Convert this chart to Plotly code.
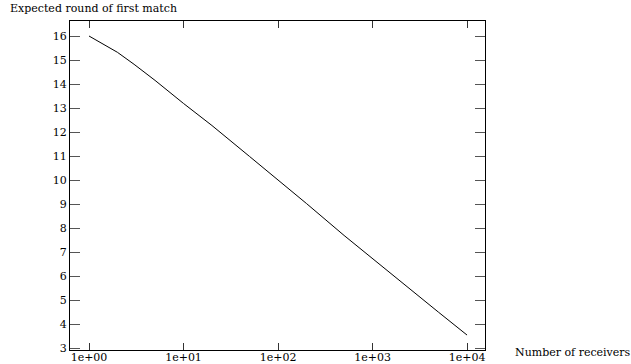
import plotly.graph_objects as go

# Expected round of first match vs. number of receivers
receivers = [1, 2, 3, 5, 10, 20, 50, 100, 200, 500, 1000, 2000, 5000, 10000]
expected_round = [16.00, 15.32, 14.82, 14.15, 13.19, 12.27, 10.98, 10.01,
                  9.02, 7.69, 6.72, 5.76, 4.49, 3.54]

x_tickvals = [1, 10, 100, 1000, 10000]
x_ticktext = ["1e+00", "1e+01", "1e+02", "1e+03", "1e+04"]
y_tickvals = list(range(3, 17))

W, H = 631, 364
L, R, T, B = 70, 146, 21, 14
plot_w = W - L - R
plot_h = H - T - B

serif = "DejaVu Serif"
fs = 11

fig = go.Figure()
fig.add_trace(go.Scatter(
    x=receivers, y=expected_round, mode="lines",
    line=dict(color="black", width=1), showlegend=False,
))

fig.update_layout(
    width=W, height=H,
    margin=dict(l=L, r=R, t=T, b=B),
    paper_bgcolor="white", plot_bgcolor="white",
    font=dict(family=serif, size=fs, color="black"),
    xaxis=dict(
        type="log", range=[-0.201, 4.19], automargin=False,
        tickvals=x_tickvals, ticktext=x_ticktext,
        ticks="inside", ticklen=7, tickwidth=1, tickcolor="#333",
        ticklabelstandoff=-3,
        showline=True, linecolor="black", linewidth=1, mirror="ticks",
        showgrid=False, zeroline=False,
        tickfont=dict(family=serif, size=fs),
    ),
    yaxis=dict(
        range=[2.917, 16.625], automargin=False,
        tickvals=y_tickvals,
        ticks="inside", ticklen=10, tickwidth=1, tickcolor="#555",
        showline=True, linecolor="black", linewidth=1, mirror="ticks",
        showgrid=False, zeroline=False,
        tickfont=dict(family=serif, size=fs),
    ),
    annotations=[
        dict(text="Expected round of first match", xref="paper", yref="paper",
             x=(8 - L) / plot_w, y=1 + (T - 8) / plot_h,
             xanchor="left", yanchor="middle", showarrow=False,
             font=dict(family=serif, size=fs)),
        dict(text="Number of receivers", xref="paper", yref="paper",
             x=(513 - L) / plot_w, y=(H - B - 352) / plot_h,
             xanchor="left", yanchor="middle", showarrow=False,
             font=dict(family=serif, size=fs)),
    ],
)

fig.write_html("out.html")
